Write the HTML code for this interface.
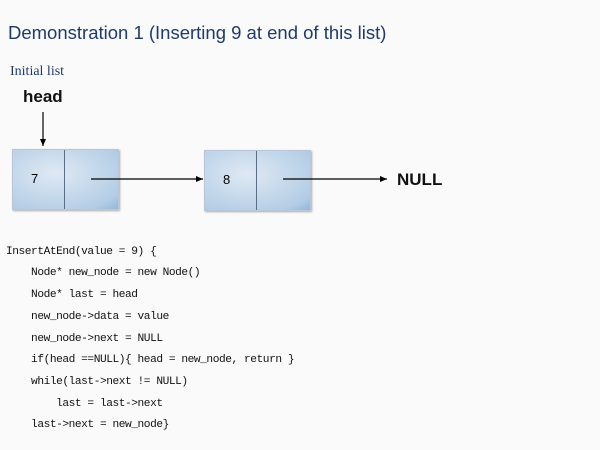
<!DOCTYPE html>
<html><head><style>
body{margin:0;width:600px;height:450px;background:#fafafa;position:relative;overflow:hidden;font-family:"Liberation Sans",sans-serif}
.t{position:absolute;white-space:pre}
.node{position:absolute;height:59px;width:105px;border:1px solid #b8c8d8;background:radial-gradient(ellipse at 40% 40%,#dfe9f3,#b3cde6 80%,#93b6da);box-shadow:1px 1px 2px #aaa}
.node .d{position:absolute;left:51px;top:0;bottom:0;border-left:1px solid #5a6f85}
.code{position:absolute;left:6px;font-family:"Liberation Mono",monospace;font-size:11.2px;letter-spacing:-0.45px;color:#111;white-space:pre}
</style></head><body>
<div class="t" style="left:8px;top:22px;font-size:18.5px;color:#1f3a6e">Demonstration 1 (Inserting 9 at end of this list)</div>
<div class="t" style="left:10px;top:64px;font-size:14px;color:#1f3a6e;font-family:'Liberation Serif',serif">Initial list</div>
<div class="t" style="left:23px;top:87px;font-size:17px;font-weight:bold;color:#111">head</div>
<div class="node" style="left:12px;top:149px"><div class="d"></div></div>
<div class="node" style="left:204px;top:150px"><div class="d"></div></div>
<div class="t" style="left:31px;top:171px;font-size:13px">7</div>
<div class="t" style="left:223px;top:172px;font-size:13px">8</div>
<div class="t" style="left:397px;top:170px;font-size:17px;font-weight:bold;color:#111">NULL</div>
<svg width="600" height="450" style="position:absolute;left:0;top:0">
<defs><marker id="a" markerWidth="8" markerHeight="8" refX="7" refY="4" orient="auto" markerUnits="userSpaceOnUse"><path d="M0,1 L7,4 L0,7z" fill="#000"/></marker></defs>
<line x1="43" y1="112" x2="43" y2="146" stroke="#000" stroke-width="1.2" marker-end="url(#a)"/>
<line x1="91" y1="179" x2="203" y2="179" stroke="#000" stroke-width="1.2" marker-end="url(#a)"/>
<line x1="283" y1="179" x2="387" y2="179" stroke="#000" stroke-width="1.2" marker-end="url(#a)"/>
</svg>
<div class="code" style="top:246px">InsertAtEnd(value = 9) {</div>
<div class="code" style="top:267px">    Node* new_node = new Node()</div>
<div class="code" style="top:289px">    Node* last = head</div>
<div class="code" style="top:311px">    new_node-&gt;data = value</div>
<div class="code" style="top:333px">    new_node-&gt;next = NULL</div>
<div class="code" style="top:354px">    if(head ==NULL){ head = new_node, return }</div>
<div class="code" style="top:376px">    while(last-&gt;next != NULL)</div>
<div class="code" style="top:398px">        last = last-&gt;next</div>
<div class="code" style="top:419px">    last-&gt;next = new_node}</div>
</body></html>
